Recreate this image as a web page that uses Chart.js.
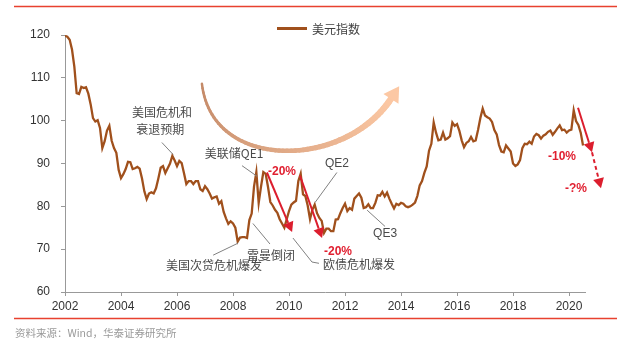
<!DOCTYPE html>
<html>
<head>
<meta charset="utf-8">
<title>美元指数</title>
<script src="https://cdn.jsdelivr.net/npm/chart.js"></script>
<style>
    body { margin: 0; background: #fff; }
    canvas { display: block; }
</style>
</head>
<body>
<canvas id="dxyChart" width="621" height="352"></canvas>
<script>
// US dollar index, monthly readings from Jan 2002 to Jul 2020
const startYear = 2002;
const dxy2002 = [119.8, 119.6, 118.9, 116.6, 112.6, 106.4, 106.2, 107.9, 107.6, 107.8, 106.3, 103.8];
const dxy2003 = [100.6, 99.8, 100.1, 98.3, 93.6, 95.2, 97.7, 98.8, 95.3, 93.6, 92.5, 88.5];
const dxy2004 = [86.6, 87.5, 88.7, 90.4, 90.3, 88.7, 88.9, 89.2, 88.8, 86.5, 83.5, 81.7];
const dxy2005 = [83.0, 83.3, 83.0, 84.2, 86.5, 89.0, 89.4, 87.8, 88.9, 90.0, 91.8, 90.7];
const dxy2006 = [89.4, 90.6, 90.1, 87.7, 85.2, 85.9, 85.9, 85.2, 85.9, 85.9, 84.0, 83.6];
const dxy2007 = [84.7, 84.0, 83.0, 81.8, 82.1, 82.3, 80.6, 81.2, 78.7, 77.2, 75.9, 76.5];
const dxy2008 = [76.0, 75.0, 71.8, 72.7, 72.8, 72.8, 72.6, 76.8, 78.3, 84.6, 88.0, 80.8];
const dxy2009 = [84.6, 88.0, 87.6, 84.5, 81.0, 80.2, 79.2, 78.5, 77.0, 76.0, 75.0, 77.0];
const dxy2010 = [78.9, 80.4, 80.9, 81.3, 85.9, 87.6, 82.8, 82.4, 80.2, 77.0, 79.2, 80.4];
const dxy2011 = [78.4, 77.3, 76.6, 73.8, 74.8, 74.8, 74.2, 74.2, 76.9, 77.0, 78.4, 79.6];
const dxy2012 = [80.6, 78.9, 79.6, 79.2, 81.8, 82.4, 83.0, 82.0, 79.6, 79.8, 80.5, 79.6];
const dxy2013 = [79.6, 80.8, 82.6, 82.5, 83.4, 82.3, 83.2, 81.8, 80.6, 79.5, 80.6, 80.3];
const dxy2014 = [80.8, 80.6, 80.0, 79.8, 80.0, 80.4, 80.9, 82.4, 84.9, 85.9, 87.8, 89.3];
const dxy2015 = [93.0, 94.6, 99.6, 97.2, 95.4, 95.6, 97.2, 95.6, 95.9, 96.4, 99.6, 98.8];
const dxy2016 = [99.2, 97.6, 95.4, 93.8, 94.8, 95.2, 96.2, 95.2, 95.4, 97.8, 100.6, 102.8];
const dxy2017 = [101.2, 100.8, 100.5, 99.7, 97.8, 96.8, 94.3, 92.8, 92.6, 94.2, 93.5, 92.8];
const dxy2018 = [90.0, 89.4, 89.8, 90.8, 93.6, 94.6, 94.5, 95.1, 94.6, 96.3, 96.9, 96.6];
const dxy2019 = [95.8, 96.5, 96.8, 97.4, 97.7, 96.7, 97.4, 98.2, 98.9, 97.8, 97.9, 97.2];
const dxy2020 = [97.7, 97.9, 102.4, 99.9, 99.0, 97.2, 94.2];

const xTicks = [2002, 2004, 2006, 2008, 2010, 2012, 2014, 2016, 2018, 2020];
const yTicks = [60, 70, 80, 90, 100, 110, 120];

const dxyYears = [dxy2002, dxy2003, dxy2004, dxy2005, dxy2006, dxy2007, dxy2008, dxy2009, dxy2010,
    dxy2011, dxy2012, dxy2013, dxy2014, dxy2015, dxy2016, dxy2017, dxy2018, dxy2019, dxy2020];
const dxyPoints = dxyYears.flatMap((arr, k) => arr.map((v, m) => ({ x: startYear + k + m / 12, y: v })));

// annotations (data coordinates)
const dropArrows = [
    { from: [2009.21, 87.9], to: [2010.11, 74.0], dashed: false },
    { from: [2010.39, 87.2], to: [2011.18, 72.6], dashed: false },
    { from: [2020.32, 103.0], to: [2020.82, 92.6], dashed: false },
    { from: [2020.82, 92.6], to: [2021.14, 84.2], dashed: true }
];
const dropLabels = [
    { text: '-20%', at: [2009.25, 88.1], align: 'left' },
    { text: '-20%', at: [2011.25, 69.3], align: 'left' },
    { text: '-10%', at: [2020.25, 91.6], align: 'right' },
    { text: '-?%', at: [2020.64, 84.2], align: 'right' }
];
const notes = [
    { text: '美国危机和', at: [2005.46, 101.9] },
    { text: '衰退预期', at: [2005.40, 97.9] },
    { text: '美联储QE1', at: [2008.04, 92.3] },
    { text: 'QE2', at: [2011.71, 90.0] },
    { text: 'QE3', at: [2013.43, 73.5] },
    { text: '美国次贷危机爆发', at: [2007.32, 66.3] },
    { text: '雷曼倒闭', at: [2009.36, 68.6] },
    { text: '欧债危机爆发', at: [2012.50, 66.5] }
];
const leaders = [
    [[2005.46, 94.9], [2005.86, 92.1]],
    [[2008.32, 89.5], [2008.86, 87.0]],
    [[2011.71, 87.9], [2010.93, 80.9]],
    [[2013.43, 75.3], [2012.79, 79.1]],
    [[2007.29, 68.6], [2008.18, 71.4]],
    [[2009.32, 71.2], [2008.71, 76.0]],
    [[2010.14, 72.6], [2010.82, 67.0], [2011.07, 66.7]]
];
// curved "turn" arrow as a cubic curve (start, two controls, end)
const turnArc = [[2006.89, 108.6], [2007.25, 87.9], [2012.0, 88.8], [2013.64, 105.1]];

function drawArrow(ctx, x1, y1, x2, y2, color, dashed) {
    const ang = Math.atan2(y2 - y1, x2 - x1);
    const head = 10, half = 5.5;
    const bx = x2 - head * Math.cos(ang), by = y2 - head * Math.sin(ang);
    ctx.save();
    ctx.strokeStyle = color;
    ctx.fillStyle = color;
    ctx.lineWidth = 2;
    if (dashed) ctx.setLineDash([4, 3]);
    ctx.beginPath();
    ctx.moveTo(x1, y1);
    ctx.lineTo(bx, by);
    ctx.stroke();
    ctx.setLineDash([]);
    ctx.beginPath();
    ctx.moveTo(x2, y2);
    ctx.lineTo(bx + half * Math.sin(ang), by - half * Math.cos(ang));
    ctx.lineTo(bx - half * Math.sin(ang), by + half * Math.cos(ang));
    ctx.closePath();
    ctx.fill();
    ctx.restore();
}

function lerpColor(a, b, t) {
    const r = Math.round(a[0] + (b[0] - a[0]) * t);
    const g = Math.round(a[1] + (b[1] - a[1]) * t);
    const bl = Math.round(a[2] + (b[2] - a[2]) * t);
    return `rgb(${r},${g},${bl})`;
}

function bez(p, t) {
    const u = 1 - t;
    return [
        u * u * u * p[0][0] + 3 * u * u * t * p[1][0] + 3 * u * t * t * p[2][0] + t * t * t * p[3][0],
        u * u * u * p[0][1] + 3 * u * u * t * p[1][1] + 3 * u * t * t * p[2][1] + t * t * t * p[3][1]
    ];
}

const decorPlugin = {
    id: 'decor',
    afterDraw(chart) {
        const ctx = chart.ctx;
        const xs = chart.scales.x, ys = chart.scales.y;
        const px = v => xs.getPixelForValue(v), py = v => ys.getPixelForValue(v);

        // red frame lines + source
        ctx.save();
        ctx.strokeStyle = '#e8412f';
        ctx.lineWidth = 1.5;
        ctx.beginPath();
        ctx.moveTo(14, 6.5); ctx.lineTo(617, 6.5);
        ctx.moveTo(14, 318.5); ctx.lineTo(617, 318.5);
        ctx.stroke();
        ctx.fillStyle = '#9a9a9a';
        ctx.font = '10.5px "Noto Sans CJK SC"';
        ctx.textBaseline = 'middle';
        ctx.fillText('资料来源：Wind，华泰证券研究所', 15, 333);

        // legend
        ctx.strokeStyle = '#a0501c';
        ctx.lineWidth = 3;
        ctx.beginPath();
        ctx.moveTo(277, 28.5); ctx.lineTo(307, 28.5);
        ctx.stroke();
        ctx.fillStyle = '#404040';
        ctx.font = '12px "Noto Sans CJK SC"';
        ctx.fillText(chart.data.datasets[0].label, 312, 29);

        // big curved arrow, getting wider and lighter towards the head
        const cp = turnArc.map(p => [px(p[0]), py(p[1])]);
        const c0 = [196, 138, 104], c1 = [252, 200, 164];
        const steps = 60;
        ctx.lineCap = 'round';
        for (let i = 0; i < steps; i++) {
            const t0 = i / steps, t1 = (i + 1) / steps;
            const a = bez(cp, t0), b = bez(cp, t1);
            ctx.strokeStyle = lerpColor(c0, c1, t0);
            ctx.lineWidth = 2.5 + 4 * t0;
            ctx.beginPath();
            ctx.moveTo(a[0], a[1]);
            ctx.lineTo(b[0], b[1]);
            ctx.stroke();
        }
        ctx.lineCap = 'butt';
        const [ex, ey] = cp[3];
        let dx = cp[3][0] - cp[2][0], dy = cp[3][1] - cp[2][1];
        const len = Math.hypot(dx, dy); dx /= len; dy /= len;
        ctx.fillStyle = 'rgb(252,200,164)';
        ctx.beginPath();
        ctx.moveTo(ex + dx * 15, ey + dy * 15);
        ctx.lineTo(ex - dy * 9, ey + dx * 9);
        ctx.lineTo(ex + dy * 9, ey - dx * 9);
        ctx.closePath();
        ctx.fill();

        // leader lines
        ctx.strokeStyle = '#808080';
        ctx.lineWidth = 1;
        leaders.forEach(pts => {
            ctx.beginPath();
            pts.forEach((p, i) => i ? ctx.lineTo(px(p[0]), py(p[1])) : ctx.moveTo(px(p[0]), py(p[1])));
            ctx.stroke();
        });

        // notes
        ctx.fillStyle = '#4a4a4a';
        ctx.textAlign = 'center';
        notes.forEach(n => {
            ctx.font = /^QE/.test(n.text) ? '12px "Liberation Sans"' : '12px "Noto Sans CJK SC"';
            ctx.fillText(n.text, px(n.at[0]), py(n.at[1]));
        });

        // red drop arrows
        dropArrows.forEach(a => drawArrow(ctx, px(a.from[0]), py(a.from[1]), px(a.to[0]), py(a.to[1]), '#dc1e2e', a.dashed));
        ctx.fillStyle = '#e01f30';
        ctx.font = 'bold 12px "Liberation Sans"';
        dropLabels.forEach(l => {
            ctx.textAlign = l.align;
            ctx.fillText(l.text, px(l.at[0]), py(l.at[1]));
        });
        ctx.restore();
    }
};

new Chart(document.getElementById('dxyChart').getContext('2d'), {
    type: 'line',
    data: {
        datasets: [{
            label: '美元指数',
            data: dxyPoints,
            borderColor: '#a0501c',
            borderWidth: 2.3,
            pointRadius: 0,
            tension: 0,
            fill: false
        }]
    },
    options: {
        responsive: false,
        animation: false,
        layout: { padding: { top: 35, right: 36, bottom: 0, left: 0 } },
        plugins: { legend: { display: false }, tooltip: { enabled: false } },
        scales: {
            x: {
                type: 'linear',
                min: 2002,
                max: 2020.57,
                afterFit: s => { s.height = 60; },
                afterBuildTicks: s => { s.ticks = xTicks.map(v => ({ value: v })); },
                grid: { drawOnChartArea: false, drawTicks: true, tickLength: 4, color: '#999' },
                border: { color: '#999' },
                ticks: { color: '#333', padding: 3, maxRotation: 0, font: { family: 'Liberation Sans', size: 12 }, callback: v => String(v) }
            },
            y: {
                min: 60,
                max: 120,
                afterFit: s => { s.width = 65; },
                afterBuildTicks: s => { s.ticks = yTicks.map(v => ({ value: v })); },
                grid: { drawOnChartArea: false, drawTicks: true, tickLength: 4, color: '#999' },
                border: { color: '#999' },
                ticks: { color: '#333', padding: 11, font: { family: 'Liberation Sans', size: 12 }, callback: v => String(v) }
            }
        }
    },
    plugins: [decorPlugin]
});
</script>
</body>
</html>
